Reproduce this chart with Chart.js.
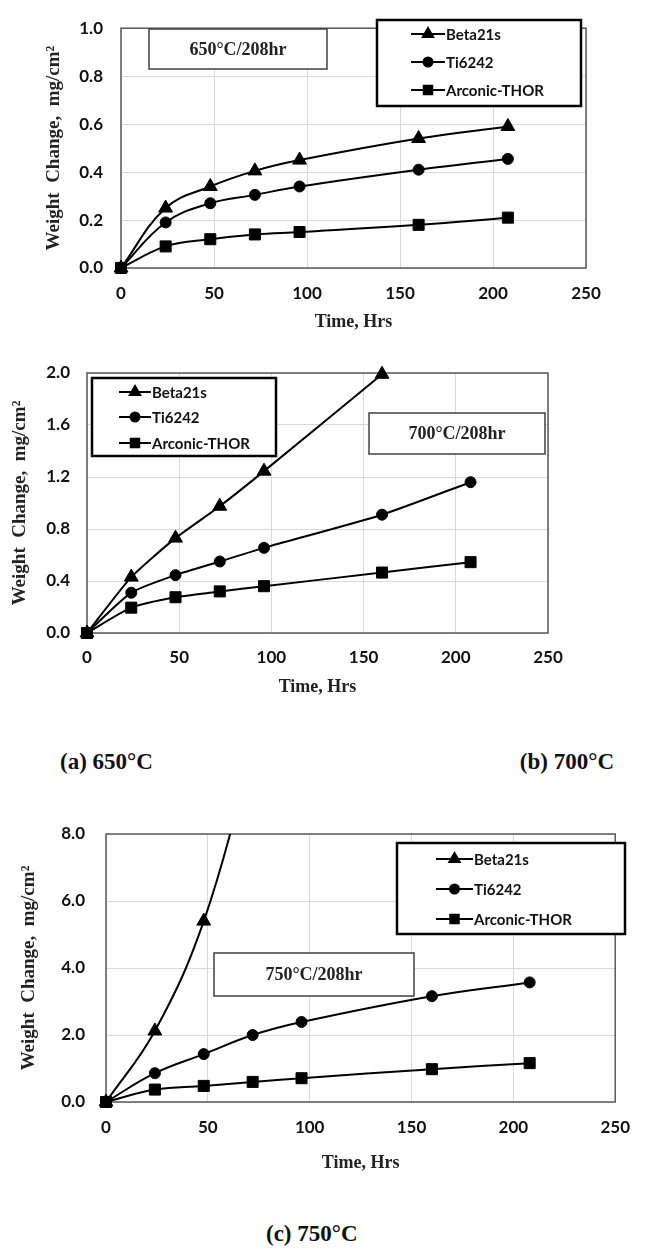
<!DOCTYPE html>
<html>
<head>
<meta charset="utf-8">
<script src="https://cdn.jsdelivr.net/npm/chart.js@4.4.1/dist/chart.umd.min.js"></script>
<style>
  body { margin: 0; background: #fff; }
  #page { position: relative; width: 645px; height: 1256px; background: #fff; }
  .panel { position: absolute; left: 0; width: 645px; }
  .caption { position: absolute; font: bold 23px 'Liberation Serif', 'Times New Roman', serif; color: #111; white-space: nowrap; }
</style>
</head>
<body>
<div id="page">
  <div class="panel" style="top:0;height:345px"><canvas id="c650"></canvas></div>
  <div class="panel" style="top:345px;height:360px"><canvas id="c700"></canvas></div>
  <div class="caption" style="left:60px;top:749px">(a) 650°C</div>
  <div class="caption" style="right:31px;top:749px">(b) 700°C</div>
  <div class="panel" style="top:800px;height:380px"><canvas id="c750"></canvas></div>
  <div class="caption" style="left:266px;top:1221px">(c) 750°C</div>
</div>
<script>
// exposure times (h) shared by all three runs
const hours = [0, 24, 48, 72, 96, 160, 208];
const seriesNames = ['Beta21s', 'Ti6242', 'Arconic-THOR'];
const markerStyles = ['triangle', 'circle', 'rect'];
const xTicks = [0, 50, 100, 150, 200, 250];

// 650°C
const beta650 = [0, 0.25, 0.34, 0.405, 0.45, 0.54, 0.59];
const ti650 = [0, 0.19, 0.27, 0.305, 0.34, 0.41, 0.455];
const thor650 = [0, 0.09, 0.12, 0.14, 0.15, 0.18, 0.21];
const yTicks650 = [0, 0.2, 0.4, 0.6, 0.8, 1.0];

// 700°C (Beta21s stops at 160 h)
const beta700 = [0, 0.43, 0.73, 0.975, 1.245, 1.99];
const ti700 = [0, 0.31, 0.445, 0.55, 0.655, 0.91, 1.16];
const thor700 = [0, 0.195, 0.275, 0.32, 0.36, 0.465, 0.545];
const yTicks700 = [0, 0.4, 0.8, 1.2, 1.6, 2.0];

// 750°C (Beta21s runs off the top of the axis after 48 h)
const beta750 = [0, 2.12, 5.4, 10.5];
const ti750 = [0, 0.86, 1.43, 2.0, 2.39, 3.16, 3.57];
const thor750 = [0, 0.37, 0.48, 0.6, 0.71, 0.98, 1.16];
const yTicks750 = [0, 2, 4, 6, 8];

const markerRadius = [8, 5.5, 7.8];
const legendRadius = [6, 4.5, 6];
const sansFont = "Lato, 'Open Sans', sans-serif";
const serifFont = "'Liberation Serif', 'Times New Roman', serif";

// plot frame, temperature tag and the boxed legend
const notesPlugin = {
  id: 'notes',
  beforeDatasetsDraw(chart) {
    const { ctx, chartArea: a } = chart;
    ctx.save();
    ctx.strokeStyle = '#595959';
    ctx.lineWidth = 1.5;
    ctx.strokeRect(a.left, a.top, a.right - a.left, a.bottom - a.top);
    ctx.restore();
  },
  afterDraw(chart, args, opts) {
    const ctx = chart.ctx;
    const t = opts.tag;
    ctx.save();
    ctx.fillStyle = '#fff';
    ctx.fillRect(t.x, t.y, t.w, t.h);
    ctx.strokeStyle = '#404040';
    ctx.lineWidth = 1.5;
    ctx.strokeRect(t.x, t.y, t.w, t.h);
    ctx.fillStyle = '#222';
    ctx.font = 'bold 18px ' + serifFont;
    ctx.textAlign = 'center';
    ctx.textBaseline = 'middle';
    ctx.fillText(t.text, t.x + t.w / 2, t.y + t.h / 2 + 1);

    const l = opts.box;
    ctx.fillStyle = '#fff';
    ctx.fillRect(l.x, l.y, l.w, l.h);
    ctx.strokeStyle = '#000';
    ctx.lineWidth = 2.5;
    ctx.strokeRect(l.x, l.y, l.w, l.h);
    ctx.font = 'bold 15px ' + sansFont;
    ctx.textAlign = 'left';
    chart.data.datasets.forEach((ds, i) => {
      const y = l.y + l.rows[i];
      ctx.strokeStyle = '#000';
      ctx.fillStyle = '#000';
      ctx.lineWidth = 2;
      ctx.beginPath();
      ctx.moveTo(l.x + l.line[0], y);
      ctx.lineTo(l.x + l.line[1], y);
      ctx.stroke();
      Chart.helpers.drawPoint(ctx, {
        pointStyle: ds.pointStyle, radius: legendRadius[i], rotation: 0, borderWidth: 1
      }, l.x + (l.line[0] + l.line[1]) / 2, y);
      ctx.fillStyle = '#111';
      ctx.fillText(ds.label, l.x + l.line[1] + 1, y + 1);
    });
    ctx.restore();
  }
};

function makeChart(id, cfg) {
  const datasets = cfg.series.map((vals, i) => ({
    label: seriesNames[i],
    data: vals.map((v, k) => ({ x: hours[k], y: v })),
    borderColor: '#000',
    backgroundColor: '#000',
    borderWidth: 2,
    pointStyle: markerStyles[i],
    pointRadius: markerRadius[i],
    pointHoverRadius: markerRadius[i],
    pointBorderWidth: 1,
    tension: cfg.tension,
    clip: cfg.clip
  }));

  return new Chart(document.getElementById(id), {
    type: 'line',
    data: { datasets },
    plugins: [notesPlugin],
    options: {
      animation: false,
      responsive: true,
      maintainAspectRatio: false,
      devicePixelRatio: 1,
      layout: { padding: { top: cfg.top, right: cfg.right, left: 0, bottom: 0 } },
      elements: { line: { capBezierPoints: false } },
      plugins: {
        legend: { display: false },
        tooltip: { enabled: false },
        notes: { tag: cfg.tag, box: cfg.box }
      },
      scales: {
        x: {
          type: 'linear',
          min: 0,
          max: 250,
          afterBuildTicks: s => { s.ticks = xTicks.map(v => ({ value: v })); },
          afterFit: s => { s.height = cfg.xHeight; },
          grid: { color: '#d9d9d9', drawTicks: false },
          border: { display: false },
          ticks: { padding: cfg.xPad, color: '#111', font: { family: sansFont, size: 17, weight: 'bold' } },
          title: {
            display: true,
            text: 'Time, Hrs',
            color: '#222',
            padding: { top: 0, bottom: cfg.xTitlePad },
            font: { family: serifFont, size: 18, weight: 'bold' }
          }
        },
        y: {
          min: cfg.yTicks[0],
          max: cfg.yTicks[cfg.yTicks.length - 1],
          afterBuildTicks: s => { s.ticks = cfg.yTicks.map(v => ({ value: v })); },
          afterFit: s => { s.width = cfg.yWidth; },
          grid: { color: '#d9d9d9', drawTicks: false },
          border: { display: false },
          ticks: {
            padding: cfg.yPad,
            color: '#111',
            font: { family: sansFont, size: 17, weight: 'bold' },
            callback: v => v.toFixed(1)
          },
          title: {
            display: true,
            text: 'Weight  Change,  mg/cm²',
            color: '#222',
            padding: { top: cfg.yTitlePad, bottom: 0 },
            font: { family: serifFont, size: 19, weight: 'bold' }
          }
        }
      }
    }
  });
}

makeChart('c650', {
  series: [beta650, ti650, thor650],
  yTicks: yTicks650,
  tension: 0.4,
  clip: false,
  top: 15, right: 59, yWidth: 121, xHeight: 77,
  xPad: 15, yPad: 18, xTitlePad: 12, yTitlePad: 43,
  tag: { text: '650°C/208hr', x: 149, y: 29, w: 178, h: 40 },
  box: { x: 377, y: 20, w: 204, h: 86, rows: [14, 42, 70], line: [34, 68] }
});

makeChart('c700', {
  series: [beta700, ti700, thor700],
  yTicks: yTicks700,
  tension: 0.2,
  clip: false,
  top: 28, right: 97, yWidth: 87, xHeight: 72,
  xPad: 14, yPad: 17, xTitlePad: 7, yTitlePad: 9,
  tag: { text: '700°C/208hr', x: 369, y: 68, w: 176, h: 41 },
  box: { x: 92, y: 33, w: 184, h: 78, rows: [14, 39, 65], line: [27, 59] }
});

makeChart('c750', {
  series: [beta750, ti750, thor750],
  yTicks: yTicks750,
  tension: 0.4,
  clip: { left: 12, right: 12, bottom: 12, top: 0 },
  top: 34, right: 15, yWidth: 106, xHeight: 78,
  xPad: 15, yPad: 21, xTitlePad: 6, yTitlePad: 18,
  tag: { text: '750°C/208hr', x: 214, y: 153, w: 200, h: 43 },
  box: { x: 397, y: 43, w: 228, h: 91, rows: [16, 46, 76], line: [39, 76] }
});
</script>
</body>
</html>
